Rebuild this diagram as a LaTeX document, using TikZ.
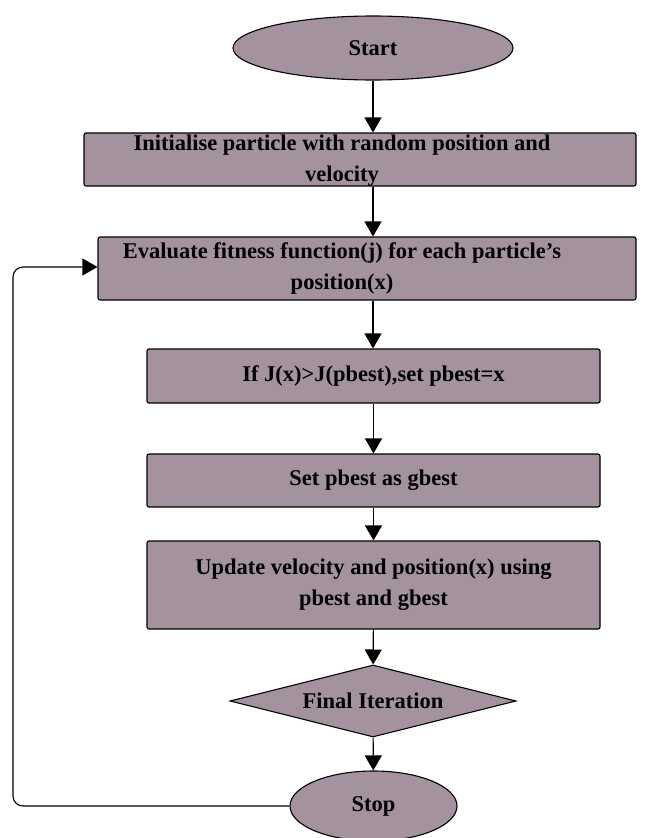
\documentclass[tikz,border=0pt]{standalone}
\usepackage{fontspec}
\setmainfont{Liberation Serif}
\usetikzlibrary{shapes.geometric,arrows.meta}
\definecolor{boxfill}{HTML}{A5929F}
\tikzset{
  txt/.style={font=\bfseries\fontsize{22.5}{31}\selectfont, align=center, inner sep=0pt},
  base/.style={txt, draw=black, line width=1.1pt, fill=boxfill},
  terminal/.style={base, ellipse},
  process/.style={base, rectangle, rounded corners=2pt},
  decision/.style={base, diamond, aspect=3.9},
  flow/.style={line width=1.1pt, -{Triangle[length=15pt,width=17pt]}},
}
\begin{document}
\begin{tikzpicture}[x=1pt,y=-1pt]
\useasboundingbox (0,0) rectangle (653,838);
\node[terminal, minimum width=280pt, minimum height=64pt] (start) at (373,48) {Start};
\node[process, minimum width=552pt, minimum height=53pt] (init) at (360,159.5) {};
\node[txt] (inittext) at (342,161)
  {Initialise particle with random position and\\velocity};
\node[process, minimum width=538pt, minimum height=63pt] (eval) at (367,268.5) {};
\node[txt] (evaltext) at (342,268)
  {Evaluate fitness function(j) for each particle’s\\position(x)};
\node[process, minimum width=453pt, minimum height=54pt] (pbest) at (373.5,376)
  {If J(x)>J(pbest),set pbest=x};
\node[process, minimum width=453pt, minimum height=53pt] (gbest) at (373.5,480.5)
  {Set pbest as gbest};
\node[process, minimum width=453pt, minimum height=88pt] (update) at (373.5,585)
  {Update velocity and position(x) using\\pbest and gbest};
\node[decision, minimum width=286pt, minimum height=72pt] (final) at (373,701)
  {Final Iteration};
\node[terminal, minimum width=167pt, minimum height=70pt] (stop) at (373.5,806) {Stop};
\coordinate (loopb) at (13,806);
\coordinate (loopt) at (13,267);

\draw[flow] (start.south) -- (start.south |- init.north);
\draw[flow] (init.south -| start.south) -- (start.south |- eval.north);
\draw[flow] (eval.south -| start.south) -- (start.south |- pbest.north);
\draw[flow] (pbest) -- (gbest);
\draw[flow] (gbest) -- (update);
\draw[flow] (update) -- (final);
\draw[flow] (final) -- (stop);
\draw[flow, rounded corners=10pt] (stop.west) -- (loopb) -- (loopt) -- (eval.west |- loopt);
\end{tikzpicture}
\end{document}
